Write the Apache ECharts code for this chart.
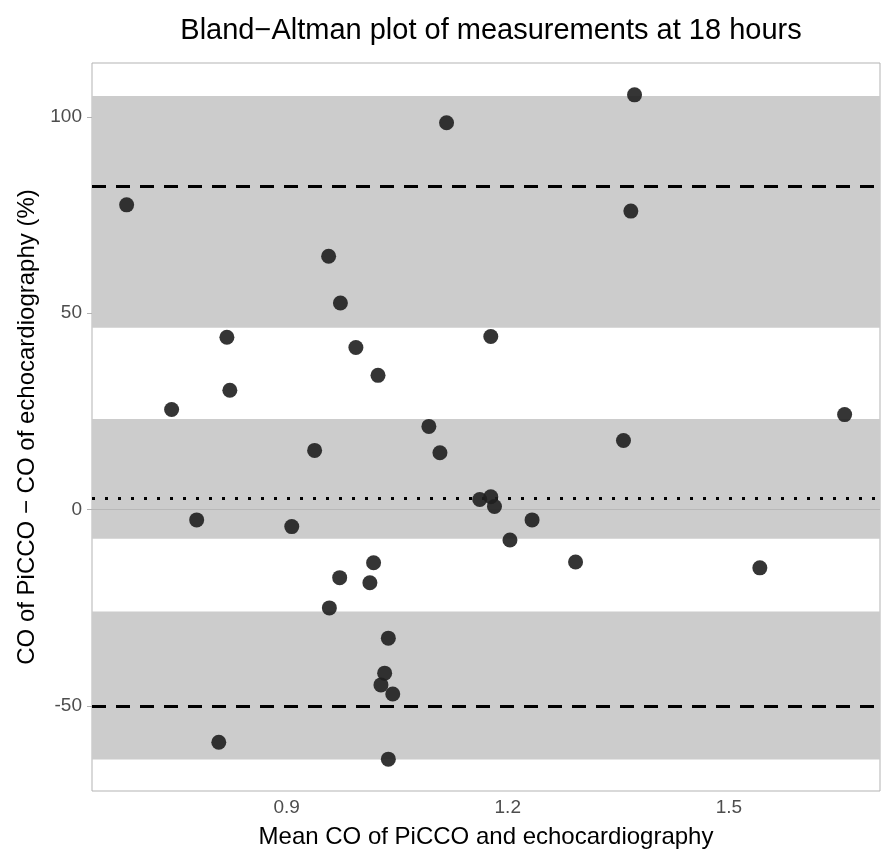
<!DOCTYPE html>
<html>
<head>
<meta charset="utf-8">
<script src="https://cdn.jsdelivr.net/npm/echarts@6/dist/echarts.min.js"></script>
<style>
html,body{margin:0;padding:0;background:#fff;}
#chart{width:889px;height:854px;}
</style>
</head>
<body>
<div id="chart"></div>
<script>
// Mean CO of PiCCO and echocardiography
var meanCO = [0.683, 0.744, 0.778, 0.819, 0.823, 0.808, 0.907, 0.938, 0.957, 0.958,
              0.972, 0.973, 0.994, 1.013, 1.018, 1.024, 1.038, 1.033, 1.028, 1.044,
              1.038, 1.117, 1.093, 1.108, 1.162, 1.177, 1.182, 1.177, 1.203, 1.233,
              1.292, 1.357, 1.367, 1.372, 1.542, 1.657];
// Difference in percent
var diffPct = [77.6, 25.5, -2.6, 43.9, 30.4, -59.2, -4.3, 15.1, 64.5, -25.0,
               -17.3, 52.6, 41.3, -18.6, -13.5, 34.2, -32.7, -41.6, -44.6, -46.9,
               -63.5, 98.5, 21.2, 14.5, 2.6, 3.3, 0.8, 44.1, -7.7, -2.6,
               -13.3, 17.6, 76.0, 105.6, -14.8, 24.2];
// Confidence bands [low, high]
var bandUpper = [46.3, 105.3];
var bandMean = [-7.4, 23.1];
var bandLower = [-63.6, -25.9];
var meanDiff = 3.0;
var upperLoA = 82.4;
var lowerLoA = -50;
var xTicks = [0.9, 1.2, 1.5];
var yTicks = [-50, 0, 50, 100];

var points = meanCO.map(function (x, i) { return [x, diffPct[i]]; });
var font = 'Liberation Sans, Arial, sans-serif';

var chart = echarts.init(document.getElementById('chart'));
chart.setOption({
  animation: false,
  backgroundColor: '#ffffff',
  title: {
    text: 'Bland\u2212Altman plot of measurements at 18 hours',
    left: 486, top: 11, textAlign: 'center',
    textStyle: { fontFamily: font, fontSize: 29, fontWeight: 'normal', color: '#000' }
  },
  grid: {
    left: 92, right: 9, top: 63, bottom: 62,
    show: true, borderColor: '#b3b3b3', borderWidth: 1, backgroundColor: '#fff'
  },
  xAxis: {
    type: 'value', min: 0.636, max: 1.705,
    name: 'Mean CO of PiCCO and echocardiography',
    nameLocation: 'middle', nameGap: 34,
    nameTextStyle: { fontFamily: font, fontSize: 24, color: '#000' },
    axisLine: { show: false },
    splitLine: { show: false },
    axisTick: { show: true, length: 5, lineStyle: { color: '#b3b3b3' }, customValues: xTicks },
    axisLabel: { fontFamily: font, fontSize: 19, color: '#4d4d4d', margin: 7, customValues: xTicks,
      formatter: function (v) { return v.toFixed(1); } }
  },
  yAxis: {
    type: 'value', min: -71.6, max: 113.7,
    name: 'CO of PiCCO \u2212 CO of echocardiography (%)',
    nameLocation: 'middle', nameGap: 53,
    nameTextStyle: { fontFamily: font, fontSize: 24, color: '#000' },
    axisLine: { show: false },
    splitLine: { show: false },
    axisTick: { show: true, length: 5, lineStyle: { color: '#b3b3b3' }, customValues: yTicks },
    axisLabel: { fontFamily: font, fontSize: 19, color: '#4d4d4d', margin: 10, customValues: yTicks }
  },
  series: [
    {
      type: 'line', data: [], silent: true,
      markArea: {
        silent: true,
        itemStyle: { color: '#cccccc' },
        data: [
          [{ yAxis: bandUpper[0] }, { yAxis: bandUpper[1] }],
          [{ yAxis: bandMean[0] }, { yAxis: bandMean[1] }],
          [{ yAxis: bandLower[0] }, { yAxis: bandLower[1] }]
        ]
      },
      markLine: {
        silent: true, symbol: 'none', label: { show: false },
        data: [
          { yAxis: 0, lineStyle: { color: '#b8b8b8', width: 1.2, type: 'solid' } },
          { yAxis: meanDiff, lineStyle: { color: '#000', width: 3, type: [3, 10] } },
          { yAxis: upperLoA, lineStyle: { color: '#000', width: 3, type: [14, 10] } },
          { yAxis: lowerLoA, lineStyle: { color: '#000', width: 3, type: [14, 10] } }
        ]
      }
    },
    {
      type: 'scatter', data: points, symbol: 'circle', symbolSize: 15,
      itemStyle: { color: '#1f1f1f', opacity: 0.9 },
      z: 5
    }
  ]
});
</script>
</body>
</html>
